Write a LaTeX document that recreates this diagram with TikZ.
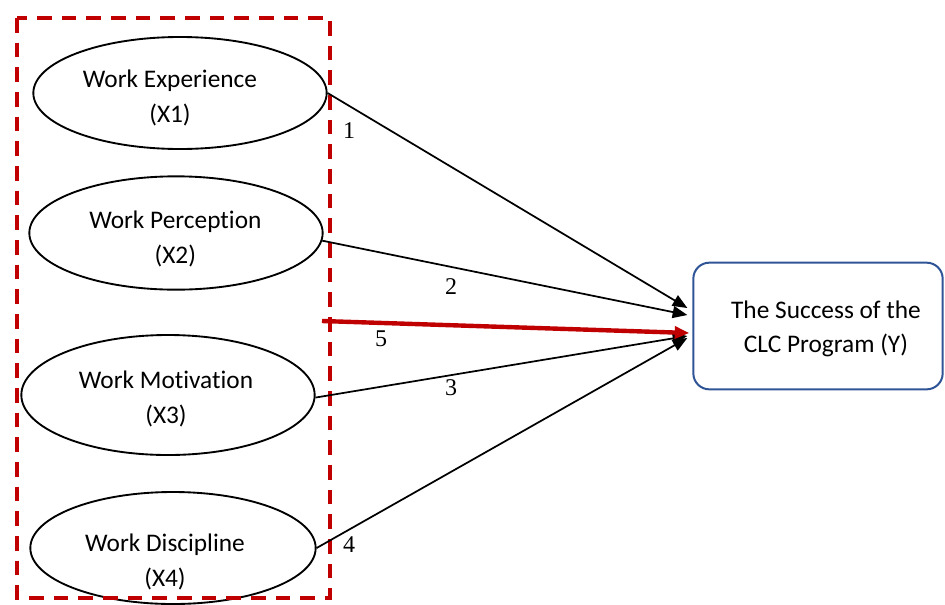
\documentclass[tikz,border=0pt]{standalone}
\usepackage{fontspec}
\setmainfont{Carlito}[Ligatures=NoCommon]
\newfontfamily\labelfont{Liberation Serif}
\usetikzlibrary{shapes.geometric, arrows.meta, calc, positioning}
\definecolor{framered}{RGB}{192,0,0}
\definecolor{boxblue}{RGB}{47,85,151}
% two-line label inside an ellipse, nudged left (#1, doubled) and down (#2)
\newcommand{\vartext}[4]{\raisebox{0pt}[\dimexpr\height+#2\relax][\dimexpr\depth-#2\relax]{\hspace*{#1}\begin{tabular}{@{}c@{}}#3\\#4\end{tabular}}}

\begin{document}
\begin{tikzpicture}[x=0.75pt,y=-0.75pt]
\tikzstyle{var}=[draw, ellipse, line width=1.4pt, minimum width=220pt, inner sep=0pt, align=center, font=\fontsize{19}{26}\selectfont]
\tikzstyle{result}=[draw=boxblue, rounded corners=12pt, line width=1.5pt, minimum width=187pt, minimum height=95pt, align=center, font=\fontsize{19}{26}\selectfont]
\tikzstyle{link}=[line width=1.3pt, -{Triangle[length=11pt, width=9pt]}]
\tikzstyle{keylink}=[framered, line width=3.3pt, -{Triangle[length=11pt, width=9pt]}]
\tikzstyle{frame}=[framered, line width=3pt, dash pattern=on 11pt off 7.5pt]
\tikzstyle{num}=[font=\labelfont\fontsize{18}{20}\selectfont, inner sep=0pt]
\useasboundingbox (0,0) rectangle (945,604);

% independent variables
\node[var, minimum height=84pt] (e1) at (180,93) {\vartext{-15pt}{3.75pt}{Work Experience}{(X1)}};
\node[var, minimum height=85pt] (e2) at (176,233) {\vartext{-1pt}{4.5pt}{Work Perception}{(X2)}};
\node[var, minimum height=90pt] (e3) at (168,395) {\vartext{-3pt}{3pt}{Work Motivation}{(X3)}};
\node[var, minimum width=214pt, minimum height=84pt] (e4) at (173,548) {\vartext{-12pt}{10.5pt}{Work Discipline}{(X4)}};
\draw[frame] (17,18) rectangle (330,598);

% dependent variable
\node[result] (box) at (818,326) {\raisebox{0pt}[\dimexpr\height+2pt\relax][\dimexpr\depth-2pt\relax]{\begin{tabular}{@{}c@{}}\hspace*{12pt}The Success of the\\\hspace*{12pt}CLC Program (Y)\end{tabular}}};

\coordinate (t1) at ($(box.west)+(-5,-18)$);
\coordinate (t2) at ($(box.west)+(-5,-11)$);
\coordinate (t5) at ($(box.west)+(-3,7)$);
\coordinate (t3) at ($(box.west)+(-5,10)$);
\coordinate (t4) at ($(box.west)+(-5,12)$);
\coordinate (s5) at (322,321);

\draw[link] (e1.east) -- (t1);
\draw[link] (e2.-3) -- (t2);
\draw[link] (e3.-1) -- (t3);
\draw[link] (e4.east) -- (t4);
\draw[keylink] (s5) -- (t5);

% path labels
\node[num] (n1) at (349,131) {1};
\node[num] (n2) at (451,287) {2};
\node[num] (n5) at (381,339) {5};
\node[num] (n3) at (451,388) {3};
\node[num] (n4) at (349,545) {4};
\end{tikzpicture}
\end{document}
